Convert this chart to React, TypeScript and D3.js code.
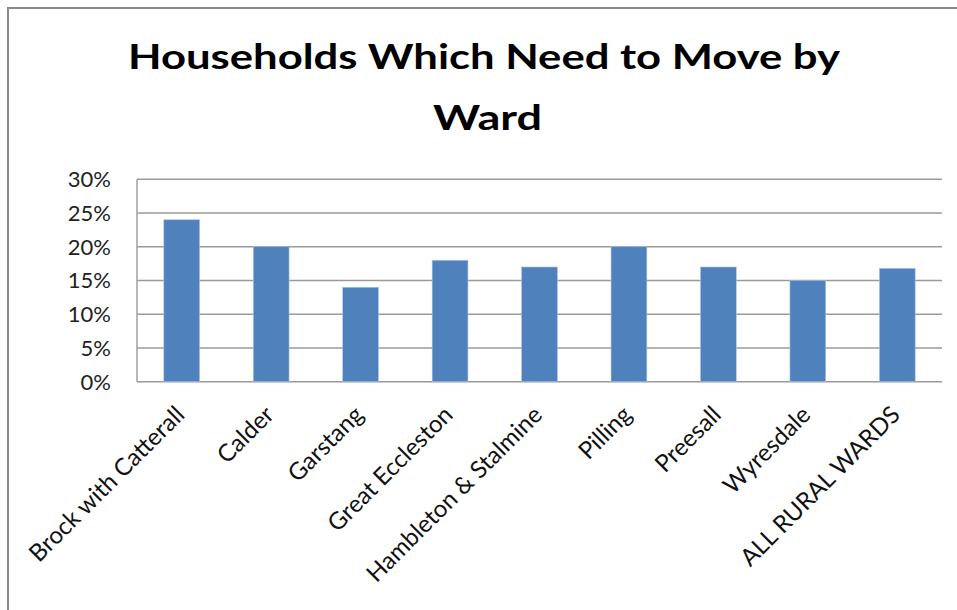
import React from "react";
import * as d3 from "d3";

const categories = [
  "Brock with Catterall",
  "Calder",
  "Garstang",
  "Great Eccleston",
  "Hambleton & Stalmine",
  "Pilling",
  "Preesall",
  "Wyresdale",
  "ALL RURAL WARDS",
];
const values = [0.24, 0.2, 0.14, 0.18, 0.17, 0.2, 0.17, 0.15, 0.168];
const yTicks = [0, 0.05, 0.1, 0.15, 0.2, 0.25, 0.3];
const titleLines = ["Households Which Need to Move by", "Ward"];

const W = 957;
const H = 610;
const plot = { left: 137, right: 942, top: 179.3, bottom: 381.7 };

export default function App() {
  const x = d3
    .scaleBand<string>()
    .domain(categories)
    .range([plot.left, plot.right])
    .paddingInner(0.6)
    .paddingOuter(0.3);
  const y = d3.scaleLinear().domain([0, 0.3]).range([plot.bottom, plot.top]);
  const fmt = d3.format(".0%");
  const font = "Lato, 'Open Sans', sans-serif";

  return (
    <svg
      width={W}
      height={H}
      style={{ position: "absolute", left: 0, top: 0, background: "#fff" }}
      fontFamily={font}
    >
      <rect x={0} y={0} width={W} height={H} fill="#fff" />
      <rect x={8} y={8} width={1200} height={900} fill="none" stroke="#8a8a8a" strokeWidth={2} />
      {/* title */}
      <text x={484} y={69} textAnchor="middle" fontSize={34} fontWeight={700} fill="#000" textLength={712} lengthAdjust="spacingAndGlyphs">
        {titleLines[0]}
      </text>
      <text x={487.5} y={130} textAnchor="middle" fontSize={34} fontWeight={700} fill="#000" textLength={109} lengthAdjust="spacingAndGlyphs">
        {titleLines[1]}
      </text>
      {/* gridlines */}
      {yTicks.map((t) => (
        <line key={t} x1={plot.left} x2={plot.right} y1={y(t)} y2={y(t)} stroke="#9a9a9a" strokeWidth={1.5} />
      ))}
      <line x1={plot.left} x2={plot.left} y1={y(0.3)} y2={y(0)} stroke="#a0a0a0" strokeWidth={1.5} />
      {/* y tick labels */}
      {yTicks.map((t) => (
        <text key={"l" + t} x={111} y={y(t)} dy="0.36em" textAnchor="end" fontSize={22} fill="#222">
          {fmt(t)}
        </text>
      ))}
      {/* bars */}
      {categories.map((c, i) => (
        <rect
          key={c}
          x={x(c)}
          y={y(values[i])}
          width={x.bandwidth()}
          height={y(0) - y(values[i])}
          fill="#4F81BD"
          stroke="#a9c4e8"
          strokeWidth={0.6}
        />
      ))}
      {/* category labels */}
      {categories.map((c) => {
        const cx = (x(c) as number) + x.bandwidth() / 2;
        return (
          <text
            key={"c" + c}
            transform={`translate(${cx - 8},${404}) rotate(-45)`}
            textAnchor="end"
            dy="0.72em"
            fontSize={24}
            fill="#111"
          >
            {c}
          </text>
        );
      })}
    </svg>
  );
}
